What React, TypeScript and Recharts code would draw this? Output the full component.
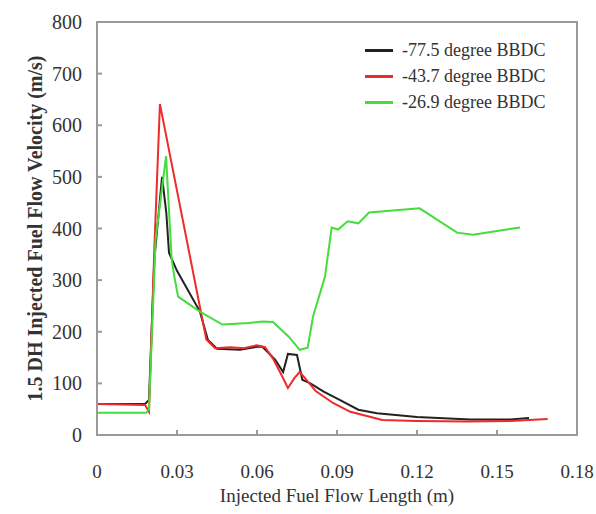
import React from 'react';
import { LineChart, Line, XAxis, YAxis, ReferenceArea } from 'recharts';

const X_TICKS = [0, 0.03, 0.06, 0.09, 0.12, 0.15, 0.18];
const Y_TICKS = [0, 100, 200, 300, 400, 500, 600, 700, 800];

// -77.5 degree BBDC
const blackX = [0, 0.018, 0.0195, 0.0215, 0.0244, 0.026, 0.027, 0.03, 0.0386, 0.0416, 0.045, 0.0536, 0.06, 0.062, 0.0668, 0.0698, 0.0716, 0.075, 0.077, 0.08, 0.085, 0.091, 0.098, 0.105, 0.12, 0.14, 0.155, 0.162];
const blackY = [60, 60, 68, 340, 500, 430, 353, 318, 239, 184, 167, 165, 171, 171, 146, 122, 157, 155, 107, 100, 84, 68, 49, 42, 35, 30, 30, 33];

// -43.7 degree BBDC
const redX = [0, 0.018, 0.0195, 0.0215, 0.0236, 0.041, 0.0443, 0.05, 0.055, 0.06, 0.063, 0.066, 0.069, 0.0716, 0.074, 0.076, 0.078, 0.082, 0.0885, 0.095, 0.107, 0.12, 0.139, 0.155, 0.169];
const redY = [60, 58, 45, 360, 641, 185, 168, 170, 168, 174, 170, 148, 118, 91, 110, 122, 110, 85, 62, 45, 29, 27, 26, 27, 31];

// -26.9 degree BBDC
const greenX = [0, 0.0185, 0.0195, 0.022, 0.0259, 0.028, 0.029, 0.0304, 0.0386, 0.047, 0.057, 0.062, 0.066, 0.072, 0.076, 0.079, 0.081, 0.0855, 0.088, 0.0904, 0.094, 0.098, 0.102, 0.121, 0.135, 0.141, 0.1586];
const greenY = [43, 43, 50, 380, 540, 340, 307, 268, 239, 214, 217, 220, 219, 190, 165, 169, 229, 307, 402, 398, 414, 410, 431, 439, 392, 388, 402];

const SERIES = [
  { name: '-77.5 degree BBDC', color: '#222222', xs: blackX, ys: blackY },
  { name: '-43.7 degree BBDC', color: '#ee2a2a', xs: redX, ys: redY },
  { name: '-26.9 degree BBDC', color: '#44dd3c', xs: greenX, ys: greenY },
];

const FONT = '"Liberation Serif", "Times New Roman", serif';
const AXIS = '#9a9a9a';

function toPoints(xs: number[], ys: number[]) {
  return xs.map((x, i) => ({ x, y: ys[i] }));
}

// legend drawn as an overlay so it does not shrink the plot
function LegendBox() {
  return (
    <div style={{ position: 'absolute', top: 37, left: 365, fontFamily: FONT, fontSize: 18, color: '#333' }}>
      {SERIES.map(s => (
        <div key={s.name} style={{ display: 'flex', alignItems: 'center', height: 26 }}>
          <span style={{ width: 28, height: 3, background: s.color, marginRight: 9 }} />
          <span>{s.name}</span>
        </div>
      ))}
    </div>
  );
}

function YTitle(props: any) {
  const vb = props.viewBox || { y: 22, height: 413 };
  const cy = vb.y + vb.height / 2;
  return (
    <text
      x={35}
      y={cy}
      transform={`rotate(-90 35 ${cy})`}
      textAnchor="middle"
      dominantBaseline="central"
      fontFamily={FONT}
      fontSize={20}
      fontWeight="bold"
      fill="#333"
    >
      1.5 DH Injected Fuel Flow Velocity (m/s)
    </text>
  );
}

export default function App() {
  return (
    <div style={{ position: 'absolute', left: 0, top: 0, width: 596, height: 514, background: '#fff' }}>
      <LineChart width={596} height={514} margin={{ top: 22, right: 19, left: 0, bottom: 0 }}>
        <ReferenceArea x1={0} x2={0.18} y1={0} y2={800} fill="none" stroke={AXIS} strokeWidth={2} ifOverflow="visible" />
        <XAxis
          type="number"
          dataKey="x"
          domain={[0, 0.18]}
          ticks={X_TICKS}
          allowDuplicatedCategory={false}
          height={79}
          stroke={AXIS}
          strokeWidth={2}
          tickSize={-5}
          tickMargin={35}
          tickFormatter={(v: number) => (v === 0 ? '0' : String(v))}
          tick={{ fontFamily: FONT, fontSize: 19, fill: '#333' }}
          label={{ value: 'Injected Fuel Flow Length (m)', position: 'insideBottom', offset: 12, style: { fontFamily: FONT, fontSize: 19, fill: '#333' } }}
        />
        <YAxis
          type="number"
          dataKey="y"
          domain={[0, 800]}
          ticks={Y_TICKS}
          width={97}
          stroke={AXIS}
          strokeWidth={2}
          tickSize={-5}
          tickMargin={20}
          tick={{ fontFamily: FONT, fontSize: 20, fill: '#333' }}
          label={{ content: YTitle }}
        />
        {SERIES.map(s => (
          <Line
            key={s.name}
            name={s.name}
            data={toPoints(s.xs, s.ys)}
            dataKey="y"
            type="linear"
            stroke={s.color}
            strokeWidth={2}
            dot={false}
            isAnimationActive={false}
          />
        ))}
      </LineChart>
      <LegendBox />
    </div>
  );
}
